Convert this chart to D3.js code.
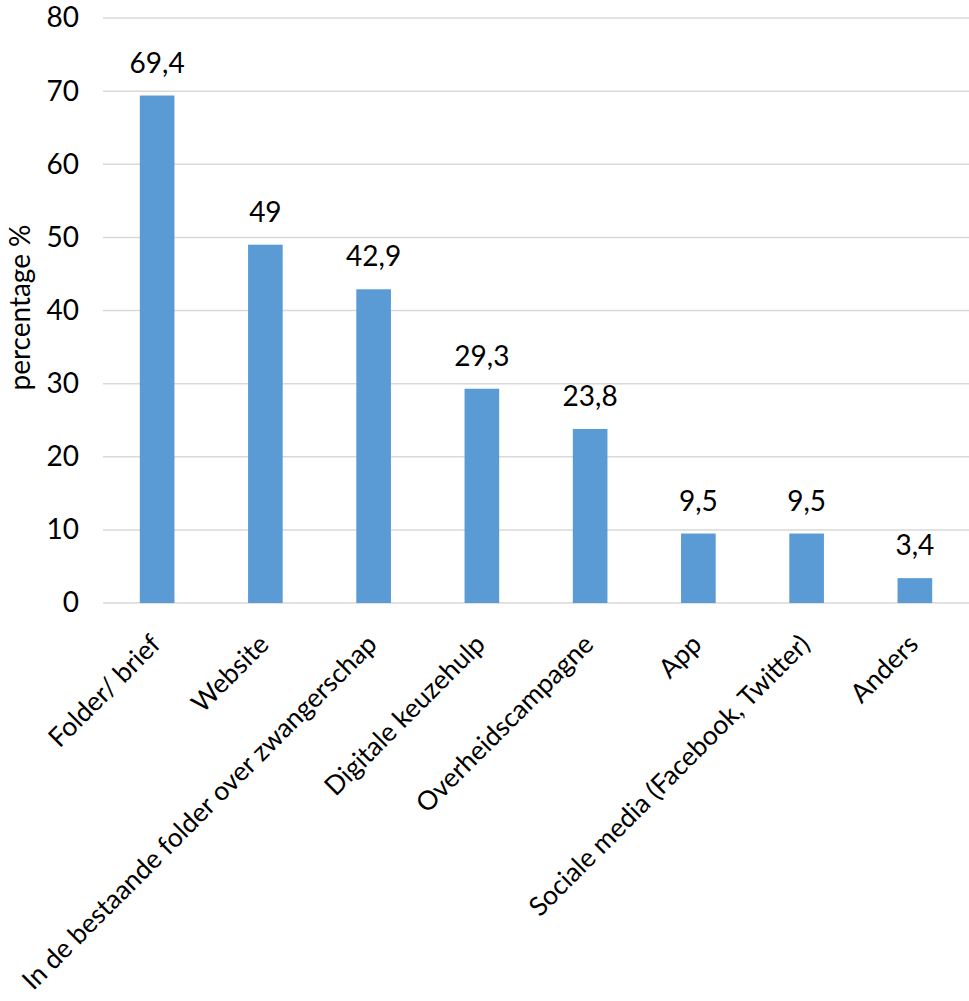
<!DOCTYPE html>
<html>
<head>
<meta charset="utf-8">
<script src="https://cdn.jsdelivr.net/npm/d3@7"></script>
<style>
  body { margin: 0; background: #fff; }
  text { font-family: Lato, "Open Sans", sans-serif; fill: #000; }
</style>
</head>
<body>
<div id="chart"></div>
<script>
// data
var categories = ["Folder/ brief", "Website", "In de bestaande folder over zwangerschap",
  "Digitale keuzehulp", "Overheidscampagne", "App", "Sociale media (Facebook, Twitter)", "Anders"];
var values = [69.4, 49, 42.9, 29.3, 23.8, 9.5, 9.5, 3.4];
var labels = ["69,4", "49", "42,9", "29,3", "23,8", "9,5", "9,5", "3,4"];
var yTicks = [0, 10, 20, 30, 40, 50, 60, 70, 80];

var W = 969, H = 1001;
var margin = {top: 18, right: 0, bottom: 398, left: 103};
var width = W - margin.left - margin.right,
    height = H - margin.top - margin.bottom;

var svg = d3.select("#chart").append("svg")
    .attr("width", W).attr("height", H)
  .append("g")
    .attr("transform", "translate(" + margin.left + "," + margin.top + ")");

var x = d3.scaleBand()
  .domain(categories)
  .range([0, width])
  .paddingInner(0.68)
  .paddingOuter(0.34);

var y = d3.scaleLinear()
  .domain([0, 80])
  .range([height, 0]);

// gridlines
svg.append("g")
  .selectAll("line")
  .data(yTicks)
  .enter().append("line")
    .attr("x1", 0).attr("x2", width)
    .attr("y1", d => y(d)).attr("y2", d => y(d))
    .attr("stroke", "#d9d9d9")
    .attr("stroke-width", 1.5);

// y tick labels
var yAxis = svg.append("g")
  .call(d3.axisLeft(y).tickValues(yTicks).tickSize(0).tickPadding(24));
yAxis.select(".domain").remove();
yAxis.attr("font-size", null).attr("font-family", null);
yAxis.selectAll("text")
  .attr("font-size", 28)
  .style("font-size", "28px");

// bars
svg.append("g")
  .selectAll("rect")
  .data(values)
  .enter().append("rect")
    .attr("x", (d, i) => x(categories[i]))
    .attr("y", d => y(d))
    .attr("width", x.bandwidth())
    .attr("height", d => height - y(d))
    .attr("fill", "#5b9bd5");

// value labels
svg.append("g")
  .selectAll("text")
  .data(values)
  .enter().append("text")
    .attr("x", (d, i) => x(categories[i]) + x.bandwidth() / 2)
    .attr("y", d => y(d) - 23)
    .attr("text-anchor", "middle")
    .attr("font-size", 28)
    .style("font-size", "28px")
    .text((d, i) => labels[i]);

// category labels
svg.append("g")
  .selectAll("text")
  .data(categories)
  .enter().append("text")
    .attr("transform", d => "translate(" + (x(d) + x.bandwidth() / 2 + 5) + "," + (height + 43) + ") rotate(-45)")
    .attr("text-anchor", "end")
    .attr("font-size", 26.5)
    .style("font-size", "26.5px")
    .text(d => d);

// y axis title
svg.append("text")
  .attr("transform", "translate(" + (-margin.left + 30) + "," + (y(40) - 3) + ") rotate(-90)")
  .attr("text-anchor", "middle")
  .attr("font-size", 28)
  .style("font-size", "28px")
  .text("percentage %");
</script>
</body>
</html>
